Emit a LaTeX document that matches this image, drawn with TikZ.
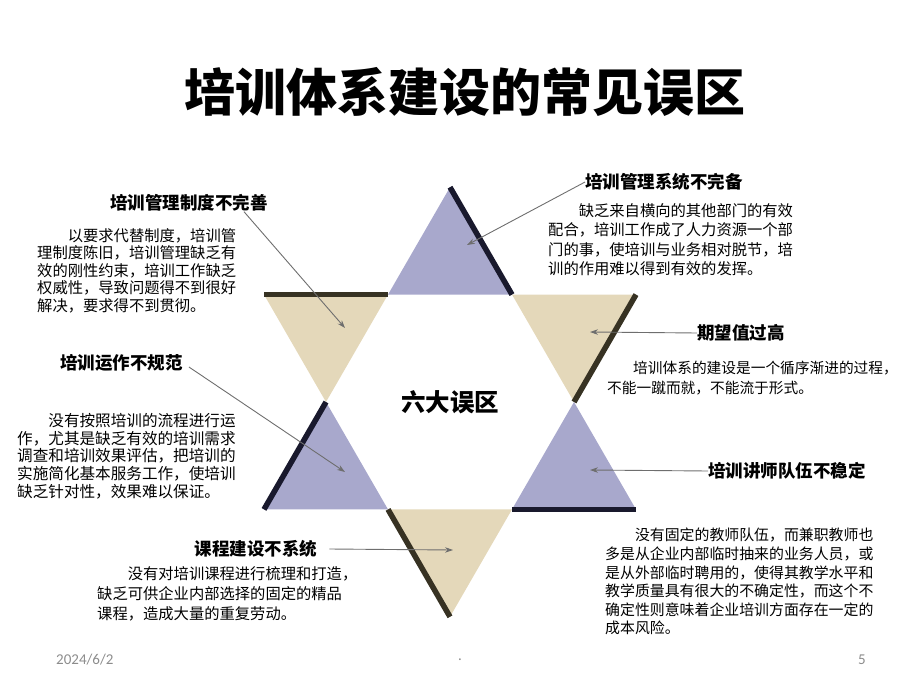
\documentclass[tikz,border=0pt]{standalone}
\usepackage{fontspec}
\setmainfont{Noto Sans CJK SC}
\newfontfamily\footfont{Carlito}
\usetikzlibrary{arrows.meta}
\definecolor{triblue}{RGB}{168,168,204}
\definecolor{tribeige}{RGB}{228,216,186}
\definecolor{bandblue}{RGB}{25,25,45}
\definecolor{bandbeige}{RGB}{55,50,35}
\definecolor{conngray}{RGB}{110,110,110}
\definecolor{footgray}{RGB}{140,140,140}
\begin{document}
\begin{tikzpicture}[x=1pt,y=-1pt,
  titlefont/.style={font=\fontsize{51}{56}\selectfont\bfseries, inner sep=0},
  head/.style={font=\fontsize{17.5}{20}\selectfont\bfseries, inner sep=0},
  body/.style={font=\fontsize{15.3}{17.6}\selectfont, align=left, anchor=north west, inner sep=0},
  conn/.style={draw=conngray, line width=0.9pt, -{Stealth[length=8pt,width=5.5pt]}},
  band/.style={line width=5.5pt, line cap=butt},
  foot/.style={font=\footfont\fontsize{15}{18}\selectfont, text=footgray, inner sep=0}
]
\useasboundingbox (0,0) rectangle (920,690);

% star geometry
\coordinate (H0) at (574,402);
\coordinate (H1) at (512,294.6);
\coordinate (H2) at (388,294.6);
\coordinate (H3) at (326,402);
\coordinate (H4) at (388,509.4);
\coordinate (H5) at (512,509.4);
\coordinate (T)  at (450,187.2);
\coordinate (UL) at (264,294.6);
\coordinate (UR) at (636,294.6);
\coordinate (LL) at (264,509.4);
\coordinate (LR) at (636,509.4);
\coordinate (B)  at (450,616.8);

\fill[triblue]  (T) -- (H1) -- (H2) -- cycle;
\fill[tribeige] (UL) -- (H2) -- (H3) -- cycle;
\fill[tribeige] (H1) -- (UR) -- (H0) -- cycle;
\fill[triblue]  (H3) -- (H4) -- (LL) -- cycle;
\fill[triblue]  (H0) -- (LR) -- (H5) -- cycle;
\fill[tribeige] (H4) -- (H5) -- (B) -- cycle;

\draw[band, bandblue,  shift={(1.7,-1.0)}] (T) -- (H1);
\draw[band, bandbeige, shift={(0,-2)}] (UL) -- (H2);
\draw[band, bandbeige, shift={(1.7,1.0)}] (UR) -- (H0);
\draw[band, bandblue,  shift={(-1.7,-1.0)}] (H3) -- (LL);
\draw[band, bandblue,  shift={(0,2)}] (H5) -- (LR);
\draw[band, bandbeige, shift={(-1.7,1.0)}] (H4) -- (B);

% title and centre
\node[titlefont] (title) at (465,92) {培训体系建设的常见误区};
\node[font=\fontsize{24.5}{28}\selectfont\bfseries, inner sep=0] (centre) at (450,402) {六大误区};

% block 1
\node[head] (h1) at (189,203) {培训管理制度不完善};
\node[body] (p1) at (37,228) {\hspace*{2em}以要求代替制度，培训管\\理制度陈旧，培训管理缺乏有\\效的刚性约束，培训工作缺乏\\权威性，导致问题得不到很好\\解决，要求得不到贯彻。};

% block 2
\node[head] (h2) at (664,182) {培训管理系统不完备};
\node[body, font=\fontsize{15.3}{19.5}\selectfont] (p2) at (548,203) {\hspace*{2em}缺乏来自横向的其他部门的有效\\配合，培训工作成了人力资源一个部\\门的事，使培训与业务相对脱节，培\\训的作用难以得到有效的发挥。};

% block 3
\node[head] (h3) at (121.5,363) {培训运作不规范};
\node[body, font=\fontsize{15.6}{17.8}\selectfont] (p3) at (17,413) {\hspace*{2em}没有按照培训的流程进行运\\作，尤其是缺乏有效的培训需求\\调查和培训效果评估，把培训的\\实施简化基本服务工作，使培训\\缺乏针对性，效果难以保证。};

% block 4
\node[head] (h4) at (741,333) {期望值过高};
\node[body, font=\fontsize{14.7}{20}\selectfont] (p4) at (607,361) {\hspace*{26pt}培训体系的建设是一个循序渐进的过程，\\不能一蹴而就，不能流于形式。};

% block 5
\node[head] (h5) at (787,471) {培训讲师队伍不稳定};
\node[body, font=\fontsize{14.9}{18.6}\selectfont] (p5) at (605,528) {\hspace*{2em}没有固定的教师队伍，而兼职教师也\\多是从企业内部临时抽来的业务人员，或\\是从外部临时聘用的，使得其教学水平和\\教学质量具有很大的不确定性，而这个不\\确定性则意味着企业培训方面存在一定的\\成本风险。};

% block 6
\node[head] (h6) at (256,549) {课程建设不系统};
\node[body, font=\fontsize{15.3}{20}\selectfont] (p6) at (97,566) {\hspace*{2em}没有对培训课程进行梳理和打造，\\缺乏可供企业内部选择的固定的精品\\课程，造成大量的重复劳动。};

% arrow tips
\coordinate (t1) at (345,328);
\coordinate (t2) at (467,245);
\coordinate (t3) at (345,472);
\coordinate (t4) at (590,332);
\coordinate (t5) at (590,470);
\coordinate (t6) at (453,550);

\draw[conn] ([xshift=-24pt]h1.south east) -- (t1);
\draw[conn] (h2.west) -- (t2);
\draw[conn] ([xshift=6pt,yshift=-4pt]h3.east) -- (t3);
\draw[conn] (h4.west) -- (t4);
\draw[conn] (h5.west) -- (t5);
\draw[conn] ([xshift=12pt]h6.east) -- (t6);

% footer
\node[foot, anchor=west] (date) at (56,660) {2024/6/2};
\node[foot] (dot) at (460,660) {.};
\node[foot] (num) at (862,660) {5};
\end{tikzpicture}
\end{document}
